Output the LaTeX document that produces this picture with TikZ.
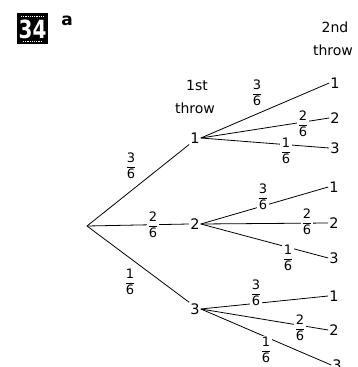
\documentclass[tikz,border=0pt]{standalone}
\usepackage{fontspec}
\setmainfont{DejaVu Sans}
\newcommand\fr[2]{$\displaystyle\frac{\hbox{#1}}{\hbox{#2}}$}
\pgfdeclarelayer{bg}
\pgfsetlayers{bg,main}
\tikzset{
  val/.style={font=\fontsize{14.5}{16}\selectfont, inner sep=1pt},
  head/.style={font=\fontsize{14}{16}\selectfont, inner sep=0pt},
  prob/.style={font=\fontsize{13}{14}\selectfont, fill=white, inner sep=1pt},
  branch/.style={line width=0.8pt},
}
\begin{document}
\begin{tikzpicture}[x=1pt,y=-1pt]
\useasboundingbox (0,0) rectangle (358,367);

% exercise badge and part letter
\fill[black] (17,13) rectangle (48,44);
\node[white, font=\bfseries\fontsize{25}{25}\selectfont, xscale=0.8, inner sep=0pt] (badge) at (32.5,29.5) {34};
\draw[white, line width=0.6pt, dash pattern=on 1.2pt off 1pt] (21,16.5) -- (44,16.5);
\draw[white, line width=0.6pt, dash pattern=on 1.2pt off 1pt] (23,41) -- (42,41);
\node[font=\bfseries\fontsize{17}{17}\selectfont, inner sep=0pt] (part) at (67,21) {a};

% column headings
\node[head] (h1a) at (197,85) {1st};
\node[head] (h1b) at (195,108) {throw};
\node[head] (h2a) at (335,27) {2nd};
\node[head] (h2b) at (333,50) {throw};

% root and outcomes
\coordinate (r) at (87,226);
\node[val] (a1) at (195,138) {1};
\node[val] (a2) at (195,224) {2};
\node[val] (a3) at (195,309) {3};

\node[val] (b11) at (335,83) {1};
\node[val] (b12) at (335,118) {2};
\node[val] (b13) at (335,148) {3};
\node[val] (b21) at (334,187) {1};
\node[val] (b22) at (334,223) {2};
\node[val] (b23) at (334,258) {3};
\node[val] (b31) at (334,296) {1};
\node[val] (b32) at (334,330) {2};
\node[val] (b33) at (337,365) {3};

% probabilities
\node[prob] (p1) at (131,166) {\fr{3}{6}};
\node[prob] (p2) at (153,225) {\fr{2}{6}};
\node[prob] (p3) at (130,282) {\fr{1}{6}};

\node[prob] (p11) at (257,93) {\fr{3}{6}};
\node[prob] (p12) at (303,124) {\fr{2}{6}};
\node[prob] (p13) at (286,151) {\fr{1}{6}};
\node[prob] (p21) at (263,197) {\fr{3}{6}};
\node[prob] (p22) at (307,222) {\fr{2}{6}};
\node[prob] (p23) at (288,258) {\fr{1}{6}};
\node[prob] (p31) at (256,293) {\fr{3}{6}};
\node[prob] (p32) at (300,328) {\fr{2}{6}};
\node[prob] (p33) at (266,350) {\fr{1}{6}};

% branches
\begin{pgfonlayer}{bg}
\draw[branch] (r) -- (a1.south west);
\draw[branch] (r) -- (a2.west);
\draw[branch] (r) -- (a3.north west);
\foreach \i in {1,2,3}{
  \draw[branch] (a\i.east) -- (b\i1.west);
  \draw[branch] (a\i.east) -- (b\i2.west);
  \draw[branch] (a\i.east) -- (b\i3.west);
}
\end{pgfonlayer}
\end{tikzpicture}
\end{document}
